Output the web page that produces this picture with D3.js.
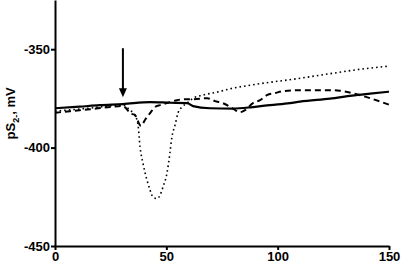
<!DOCTYPE html>
<html>
<head>
<meta charset="utf-8">
<script src="https://cdn.jsdelivr.net/npm/d3@7"></script>
<style>
  body { margin: 0; background: #fff; }
  svg { display: block; font-family: "Liberation Sans", Arial, sans-serif; }
  .axis path, .axis line { stroke: #000; stroke-width: 2; }
  .axis text { font-size: 13px; font-weight: bold; fill: #000; }
</style>
</head>
<body>
<div id="chart"></div>
<script>
// time (s) and potential (mV)
const solidT = [0, 11, 20, 30.5, 42.7, 51.6, 59.3, 62, 69.6, 79.9, 88.9, 96.6, 105.5, 110, 123.5, 133.4, 141.5, 150];
const solidV = [-380, -379.2, -378.4, -377.9, -376.9, -377.2, -377.4, -378.9, -380, -380.2, -379.4, -378.4, -377.4, -376.6, -375.1, -373.6, -372.6, -371.6];

const dashT = [0, 6.7, 15.7, 24.7, 30.5, 32.3, 33.7, 35.9, 38.6, 40.4, 42.7, 44.9, 47.2, 51.6, 54.8, 58.4, 62, 68.3, 71.9, 75.4, 79.5, 83.1, 85.3, 88.9, 92.1, 95.2, 98.8, 102.4, 110, 123.5, 128, 133.4, 141.5, 150];
const dashV = [-382.3, -381.5, -380.5, -379.4, -378.9, -380.5, -382.5, -383.5, -389, -386, -382.5, -379.4, -378.4, -376.9, -375.9, -375.4, -375.4, -374.9, -376.4, -377.4, -379.9, -382, -381, -377.4, -375.9, -373.3, -372.3, -371.3, -370.8, -370.8, -371.1, -372.3, -374.9, -378.2];

const dotT = [0, 15, 30.5, 33.7, 35.9, 37.3, 38.2, 39.5, 41.3, 42.7, 44, 45.8, 47.2, 48.5, 50.3, 51.6, 52.5, 53.9, 55.2, 57, 59.3, 62, 66.5, 72.8, 79.9, 87.6, 96.6, 104.2, 124.9, 137, 150];
const dotV = [-381.5, -380, -378.4, -381, -383.5, -388.6, -399.7, -407.9, -416.5, -421.6, -425.1, -425.9, -424.1, -420, -412.9, -402.8, -394.7, -388.6, -382.5, -379.4, -377.4, -374.9, -373.3, -371.8, -369.8, -368.3, -366.8, -365.7, -362.2, -360.2, -358.6];

const xTicks = [0, 50, 100, 150];
const yTicks = [-350, -400, -450];

// arrow marking the addition time
const arrowT = 30.5;
const arrowFrom = -349.5;
const arrowTo = -374.4;

const width = 402, height = 265;
const svg = d3.select("#chart").append("svg")
    .attr("width", width).attr("height", height);

const x = d3.scaleLinear().domain([0, 150]).range([55, 389]);
const y = d3.scaleLinear().domain([-450, -325]).range([246, 0]);

svg.append("g").attr("class", "axis")
    .attr("transform", `translate(0,${y(-450)})`)
    .call(d3.axisBottom(x).tickValues(xTicks).tickSize(4).tickSizeOuter(0).tickPadding(2).tickFormat(d => String(d)));

svg.append("g").attr("class", "axis")
    .attr("transform", `translate(${x(0)},0)`)
    .call(d3.axisLeft(y).tickValues(yTicks).tickSize(4).tickSizeOuter(0).tickPadding(1).tickFormat(d => String(d)));

// y label with subscript
const yl = svg.append("text")
    .attr("transform", `translate(15,${(y(-350) + y(-400)) / 2 + 15}) rotate(-90)`)
    .attr("text-anchor", "middle")
    .style("font-size", "13px").style("font-weight", "bold");
yl.append("tspan").text("pS");
yl.append("tspan").attr("dy", 4).style("font-size", "9px").text("2-");
yl.append("tspan").attr("dy", -4).text(", mV");

const line = d3.line().x(d => x(d[0])).y(d => y(d[1])).curve(d3.curveMonotoneX);

const series = [
  { t: dotT, v: dotV, dash: "1.6,3", w: 1.6 },
  { t: dashT, v: dashV, dash: "6,4", w: 2 },
  { t: solidT, v: solidV, dash: null, w: 2.2 }
];

series.forEach(s => {
  svg.append("path")
      .datum(d3.zip(s.t, s.v))
      .attr("fill", "none")
      .attr("stroke", "#000")
      .attr("stroke-width", s.w)
      .attr("stroke-dasharray", s.dash)
      .attr("d", line);
});

// arrow
const ax = x(arrowT);
svg.append("line")
    .attr("x1", ax).attr("x2", ax)
    .attr("y1", y(arrowFrom)).attr("y2", y(arrowTo) - 8)
    .attr("stroke", "#000").attr("stroke-width", 2);
svg.append("path")
    .attr("d", `M${ax - 4},${y(arrowTo) - 9}L${ax + 4},${y(arrowTo) - 9}L${ax},${y(arrowTo)}Z`)
    .attr("fill", "#000");
</script>
</body>
</html>
